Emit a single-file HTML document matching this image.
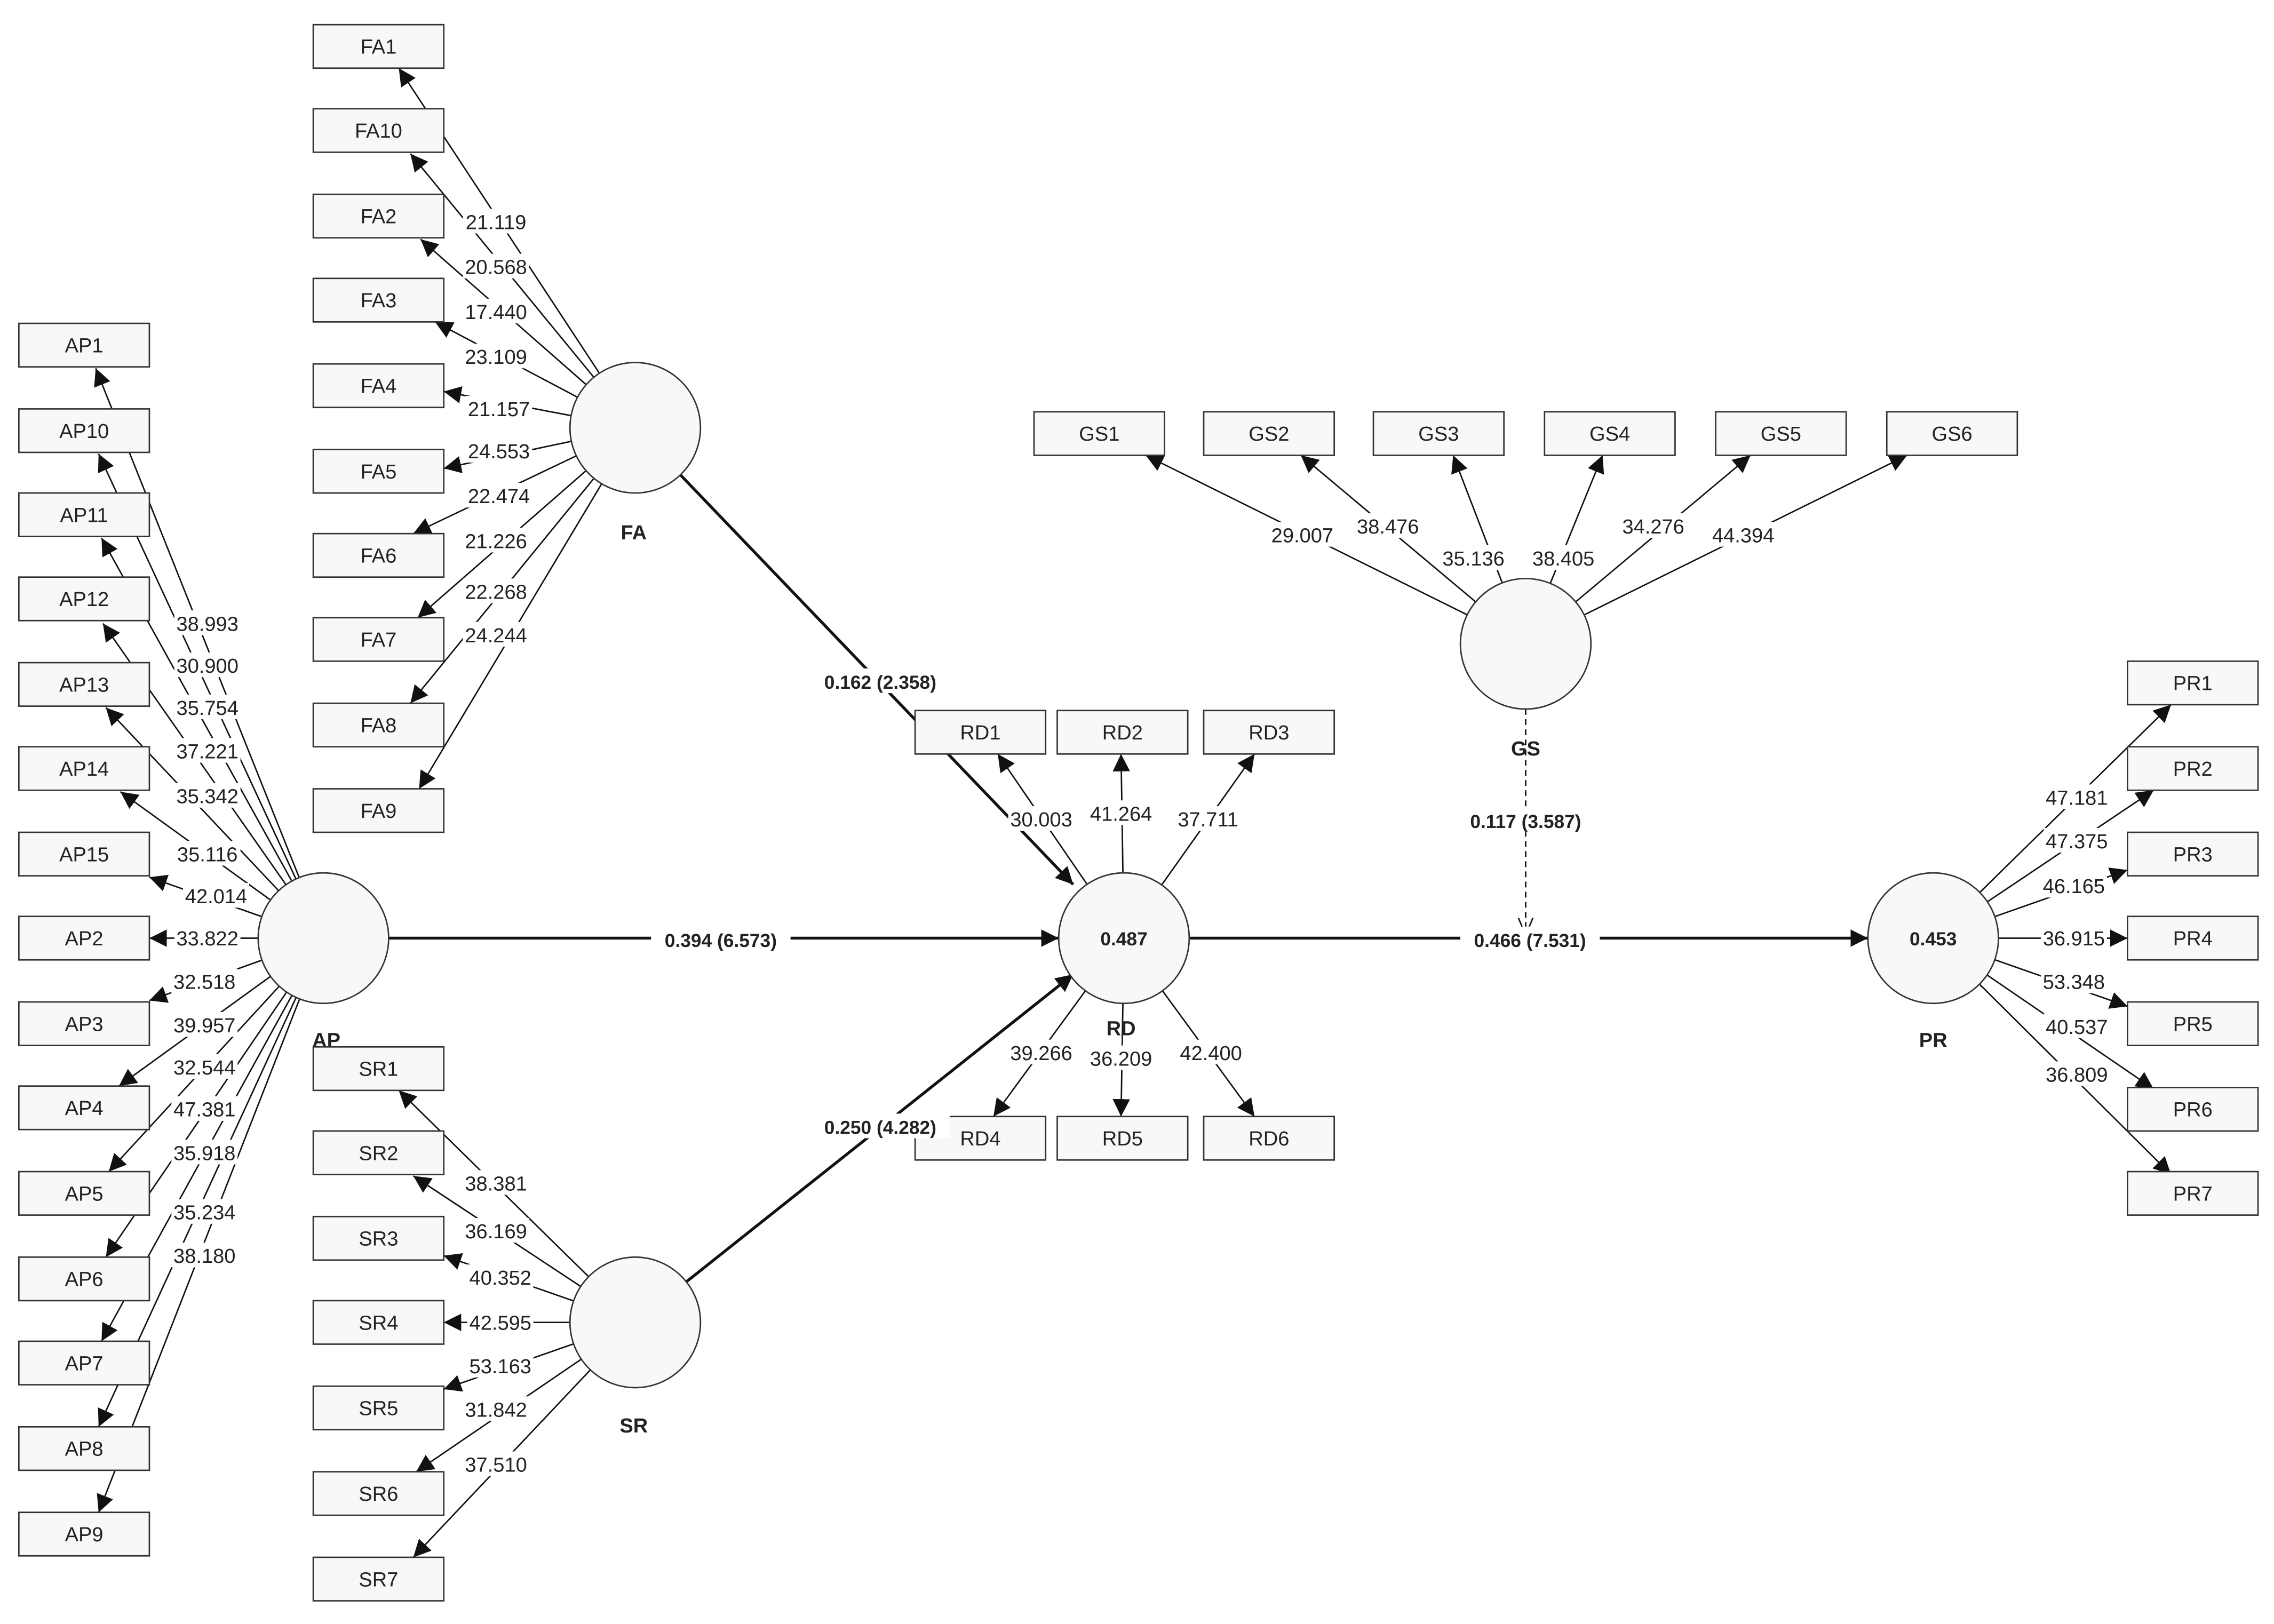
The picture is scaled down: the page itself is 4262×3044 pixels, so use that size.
<!DOCTYPE html>
<html><head><meta charset="utf-8"><style>
html,body{margin:0;padding:0;background:#fff}
svg{display:block}
text{font-family:"Liberation Sans",Arial,sans-serif;fill:#222}
</style></head><body>
<svg id="s" width="4262" height="3044" viewBox="0 0 1568 1120" preserveAspectRatio="none" xmlns="http://www.w3.org/2000/svg">
<defs>
<marker id="a" markerUnits="userSpaceOnUse" markerWidth="14" markerHeight="12" refX="12" refY="6" orient="auto"><path d="M0,0 L12,6 L0,12 z" fill="#111"/></marker>
<marker id="o" markerUnits="userSpaceOnUse" markerWidth="14" markerHeight="12" refX="12" refY="6" orient="auto"><path d="M0,1 L12,6 L0,11" fill="none" stroke="#111" stroke-width="1"/></marker>
</defs>
<g id="L"></g><g id="T"></g><g id="B"></g><g id="S"></g>
</svg>
<script>
const NS="http://www.w3.org/2000/svg";
const L=document.getElementById('L'),T=document.getElementById('T'),B=document.getElementById('B'),S=document.getElementById('S');
function el(p,n,a,t){const e=document.createElementNS(NS,n);for(const k in a)e.setAttribute(k,a[k]);if(t!==undefined)e.textContent=t;p.appendChild(e);return e;}
function box(x,cy,name){el(B,'rect',{x:x,y:cy-15,width:90,height:30,fill:'#f8f8f8',stroke:'#333','stroke-width':1});
 el(B,'text',{x:x+45,y:cy+5,'text-anchor':'middle','font-size':14},name);}
function label(x,y,t,bold){const fs=bold?13:14;const P=bold?S:T;
 const w=t.length*(bold?7.4:7.6);
 el(P,'rect',{x:x-w/2,y:y-9,width:w,height:17,fill:'#fff'});
 el(P,'text',{x:x,y:y+5,'text-anchor':'middle','font-size':fs,'font-weight':bold?'bold':'normal'},t);}
const R=45;
function line(c,end,w,mk,dash){const dx=end[0]-c[0],dy=end[1]-c[1],d=Math.hypot(dx,dy);
 const sx=c[0]+dx/d*R,sy=c[1]+dy/d*R;
 const a={x1:sx,y1:sy,x2:end[0],y2:end[1],stroke:'#111','stroke-width':w,'marker-end':'url(#'+mk+')'};
 if(dash)a['stroke-dasharray']='4,3';el(L,'line',a);}
const C={FA:[438,295],AP:[223,647],SR:[438,912],RD:[775,647],GS:[1052,444],PR:[1333,647]};
for(const k in C){el(B,'circle',{cx:C[k][0],cy:C[k][1],r:R,fill:'#f8f8f8',stroke:'#333','stroke-width':1});}
[['FA',437,372],['AP',225,722],['SR',437,988],['RD',773,714],['GS',1052,521],['PR',1333,722]].forEach(v=>el(B,'text',{x:v[1],y:v[2],'text-anchor':'middle','font-size':14,'font-weight':'bold'},v[0]));
el(B,'text',{x:775,y:652,'text-anchor':'middle','font-size':13,'font-weight':'bold'},'0.487');
el(B,'text',{x:1333,y:652,'text-anchor':'middle','font-size':13,'font-weight':'bold'},'0.453');
const FA=[['FA1',32,[275,47],'21.119',342,153],['FA10',90,[283,106],'20.568',342,184],['FA2',149,[290,165],'17.440',342,215],['FA3',207,[300,222],'23.109',342,246],['FA4',266,[306,270],'21.157',344,282],['FA5',325,[306,323],'24.553',344,311],['FA6',383,[285,368],'22.474',344,342],['FA7',441,[288,426],'21.226',342,373],['FA8',500,[283,485],'22.268',342,408],['FA9',559,[289,544],'24.244',342,438]];
FA.forEach(f=>{box(216,f[1],f[0]);line(C.FA,f[2],1,'a');});
const AP=[['AP1',238,[66,254],'38.993',143,430],['AP10',297,[68,313],'30.900',143,459],['AP11',355,[70,371],'35.754',143,488],['AP12',413,[71,430],'37.221',143,518],['AP13',472,[73,488],'35.342',143,549],['AP14',530,[83,546],'35.116',143,589],['AP15',589,[103,605],'42.014',149,618],['AP2',647,[103,647],'33.822',143,647],['AP3',706,[103,690],'32.518',141,677],['AP4',764,[82,749],'39.957',141,707],['AP5',823,[75,808],'32.544',141,736],['AP6',882,[73,867],'47.381',141,765],['AP7',940,[70,925],'35.918',141,795],['AP8',999,[68,984],'35.234',141,836],['AP9',1058,[68,1043],'38.180',141,866]];
AP.forEach(f=>{box(13,f[1],f[0]);line(C.AP,f[2],1,'a');});
const SR=[['SR1',737,[275,752],'38.381',342,816],['SR2',795,[285,811],'36.169',342,849],['SR3',854,[306,866],'40.352',345,881],['SR4',912,[306,912],'42.595',345,912],['SR5',971,[306,958],'53.163',345,942],['SR6',1030,[287,1015],'31.842',342,972],['SR7',1089,[285,1074],'37.510',342,1010]];
SR.forEach(f=>{box(216,f[1],f[0]);line(C.SR,f[2],1,'a');});
const GS=[['GS1',713,[790,314],'29.007',898,369],['GS2',830,[897,314],'38.476',957,363],['GS3',947,[1002,314],'35.136',1016,385],['GS4',1065,[1105,314],'38.405',1078,385],['GS5',1183,[1207,314],'34.276',1140,363],['GS6',1301,[1315,314],'44.394',1202,369]];
GS.forEach(f=>{el(B,'rect',{x:f[1],y:284,width:90,height:30,fill:'#f8f8f8',stroke:'#333'});el(B,'text',{x:f[1]+45,y:304,'text-anchor':'middle','font-size':14},f[0]);line(C.GS,f[2],1,'a');});
const RD=[['RD1',631,505,[688,520],'30.003',718,565],['RD2',729,505,[773,520],'41.264',773,561],['RD3',830,505,[865,520],'37.711',833,565],['RD4',631,785,[685,770],'39.266',718,726],['RD5',729,785,[773,770],'36.209',773,730],['RD6',830,785,[865,770],'42.400',835,726]];
RD.forEach(f=>{box(f[1],f[2],f[0]);line(C.RD,f[3],1,'a');});
const PR=[['PR1',471,[1497,486],'47.181',1432,550],['PR2',530,[1485,545],'47.375',1432,580],['PR3',589,[1467,600],'46.165',1430,611],['PR4',647,[1467,647],'36.915',1430,647],['PR5',706,[1467,694],'53.348',1430,677],['PR6',765,[1485,751],'40.537',1432,708],['PR7',823,[1497,810],'36.809',1432,741]];
PR.forEach(f=>{box(1467,f[1],f[0]);line(C.PR,f[2],1,'a');});
line(C.FA,[740,610],2,'a');line(C.AP,[730,647],2,'a');line(C.SR,[740,672],2,'a');line(C.RD,[1288,647],2,'a');
el(L,'line',{x1:1052,y1:489,x2:1052,y2:645,stroke:'#111','stroke-width':1,'stroke-dasharray':'4,3','marker-end':'url(#o)'});
[FA,AP,SR].forEach(g=>g.forEach(f=>label(f[4],f[5],f[3])));
GS.forEach(f=>label(f[4],f[5],f[3]));RD.forEach(f=>label(f[5],f[6],f[4]));PR.forEach(f=>label(f[4],f[5],f[3]));
label(607,470,'0.162 (2.358)',1);label(497,648,'0.394 (6.573)',1);label(607,777,'0.250 (4.282)',1);label(1052,566,'0.117 (3.587)',1);label(1055,648,'0.466 (7.531)',1);
</script>
</body></html>
